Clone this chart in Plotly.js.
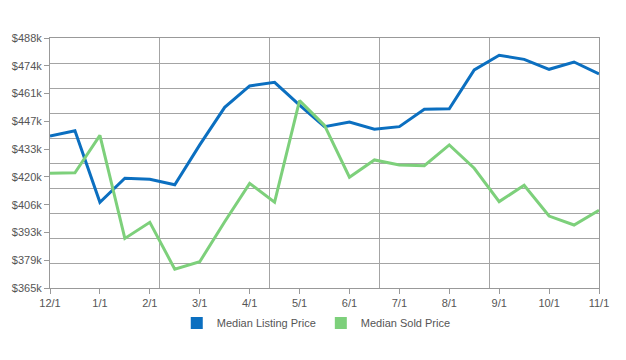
<!DOCTYPE html>
<html>
<head>
<meta charset="utf-8">
<script src="https://cdn.plot.ly/plotly-3.0.1.min.js"></script>
<style>html,body{margin:0;padding:0;background:#fff;}#chart{width:626px;height:360px;}</style>
</head>
<body>
<div id="chart"></div>
<script>
// Half-month sample positions (0 = 12/1, 22 = 11/1)
var xIndex = [0,1,2,3,4,5,6,7,8,9,10,11,12,13,14,15,16,17,18,19,20,21,22];
var listingPrice = [439800,442400,407200,419000,418500,415800,435400,453900,464400,466200,455000,444400,446700,443100,444400,452900,453200,472300,479500,477500,472600,476200,470300];
var soldPrice = [421400,421700,440100,389400,397300,374300,377900,397600,416500,407200,457200,445000,419500,428000,425500,425200,435400,423900,407500,415500,400400,396000,403200];
var monthTickVals = [0,2,4,6,8,10,12,14,16,18,20,22];
var monthLabels = ['12/1','1/1','2/1','3/1','4/1','5/1','6/1','7/1','8/1','9/1','10/1','11/1'];
var yTickVals = [365000,378667,392333,406000,419667,433333,447000,460667,474333,488000];
var yTickLabels = ['$365k','$379k','$393k','$406k','$420k','$433k','$447k','$461k','$474k','$488k'];
var seriesNames = ['Median Listing Price','Median Sold Price'];
var seriesColors = ['#0b6fc0','#7dd07b'];

var traces = [
  {x: [null], y: [null], name: seriesNames[0], mode: 'markers', marker: {symbol: 'square', size: 12, color: seriesColors[0]}, xaxis: 'x2', yaxis: 'y2'},
  {x: [null], y: [null], name: seriesNames[1], mode: 'markers', marker: {symbol: 'square', size: 12, color: seriesColors[1]}, xaxis: 'x2', yaxis: 'y2'},
  {x: xIndex, y: listingPrice, mode: 'lines', line: {color: seriesColors[0], width: 3}, showlegend: false, hoverinfo: 'skip'},
  {x: xIndex, y: soldPrice, mode: 'lines', line: {color: seriesColors[1], width: 3}, showlegend: false, hoverinfo: 'skip'}
];

var layout = {
  width: 626, height: 360,
  margin: {l: 50, r: 27, t: 38, b: 72},
  paper_bgcolor: '#fff', plot_bgcolor: '#fff',
  font: {family: 'Liberation Sans, Arial, sans-serif', size: 11, color: '#555'},
  showlegend: true,
  legend: {orientation: 'h', x: 0.485, xanchor: 'center', y: -0.082, yanchor: 'top', font: {size: 11, color: '#555'}, itemclick: false},
  xaxis: {range: [0, 22], tickvals: monthTickVals, ticktext: monthLabels, showgrid: false, zeroline: false,
          showline: true, mirror: true, linecolor: '#999', linewidth: 1, ticks: 'outside', ticklen: 5, tickcolor: '#999', fixedrange: true},
  xaxis2: {range: [0, 22], overlaying: 'x', anchor: 'y2', dtick: 4.4, tick0: 0, showgrid: true, gridcolor: '#a4a4a4', gridwidth: 1,
           showticklabels: false, ticks: '', zeroline: false, showline: false, fixedrange: true},
  yaxis: {range: [365000, 488000], tickvals: yTickVals, ticktext: yTickLabels, showgrid: false, zeroline: false,
          showline: true, mirror: true, linecolor: '#999', linewidth: 1, ticks: 'outside', ticklen: 5, tickcolor: '#999', fixedrange: true},
  yaxis2: {range: [365000, 488000], overlaying: 'y', anchor: 'x2', dtick: 12300, tick0: 365000, showgrid: true, gridcolor: '#a4a4a4', gridwidth: 1,
           showticklabels: false, ticks: '', zeroline: false, showline: false, fixedrange: true}
};

Plotly.newPlot('chart', traces, layout, {displayModeBar: false, staticPlot: true});
</script>
</body>
</html>
